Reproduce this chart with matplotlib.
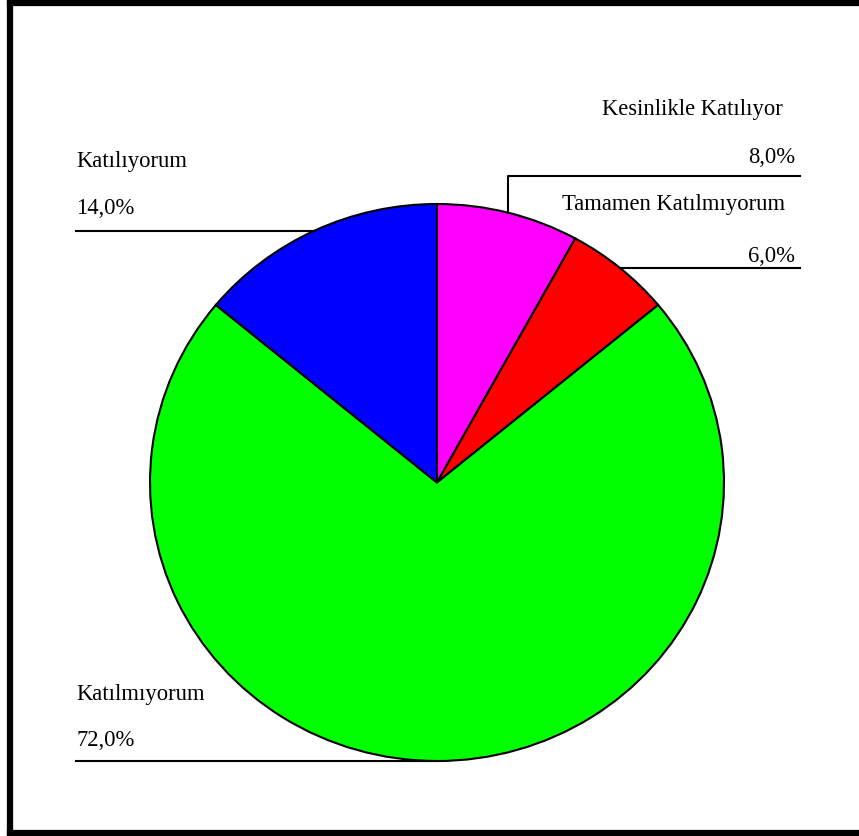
import numpy as np
import matplotlib
matplotlib.use("Agg")
import matplotlib.pyplot as plt

# veriler
labels = ["Kesinlikle Katılıyor", "Tamamen Katılmıyorum", "Katılmıyorum", "Katılıyorum"]
values = [8.0, 6.0, 72.0, 14.0]
colors = ["#FF00FF", "#FF0000", "#00FF00", "#0000FF"]

W, H = 859, 837
fig = plt.figure(figsize=(W / 100, H / 100), dpi=100)

# pasta grafiği (hafif elips)
cx, cy, rx, ry = 437, 483.5, 287, 278.5
pax = fig.add_axes([(cx - rx) / W, (H - cy - ry) / H, 2 * rx / W, 2 * ry / H])
wedges, _ = pax.pie(values, colors=colors, startangle=90, counterclock=False,
                    wedgeprops=dict(edgecolor="black", linewidth=1.5))
pax.set_aspect("auto")
pax.set_xlim(-1, 1)
pax.set_ylim(-1, 1)
pax.axis("off")

# etiketler ve çizgiler piksel koordinatında
ax = fig.add_axes([0, 0, 1, 1])
ax.set_xlim(0, W)
ax.set_ylim(H, 0)
ax.axis("off")

def edge_point(w):
    t = np.deg2rad((w.theta1 + w.theta2) / 2)
    return cx + rx * np.cos(t), cy - ry * np.sin(t)

def pct(v):
    return f"{v:.1f}%".replace(".", ",")

font = dict(family="Liberation Serif", fontsize=16.3, color="black")
lw = 1.5

# Kesinlikle Katılıyor
ex, ey = edge_point(wedges[0])
ax.plot([ex, ex, 800], [ey, 177, 177], color="black", lw=lw)
ax.text(783, 115, labels[0], ha="right", va="baseline", **font)
ax.text(795, 163, pct(values[0]), ha="right", va="baseline", **font)

# Tamamen Katılmıyorum
ex, ey = edge_point(wedges[1])
ax.plot([ex, 800], [ey, ey], color="black", lw=lw)
ax.text(785, 210, labels[1], ha="right", va="baseline", **font)
ax.text(795, 262, pct(values[1]), ha="right", va="baseline", **font)

# Katılmıyorum
ex, ey = edge_point(wedges[2])
ax.plot([76, ex], [ey, ey], color="black", lw=lw)
ax.text(76, 700, labels[2], ha="left", va="baseline", **font)
ax.text(76, 746, pct(values[2]), ha="left", va="baseline", **font)

# Katılıyorum
ex, ey = edge_point(wedges[3])
ax.plot([76, ex], [ey, ey], color="black", lw=lw)
ax.text(76, 167, labels[3], ha="left", va="baseline", **font)
ax.text(76, 214, pct(values[3]), ha="left", va="baseline", **font)

# çerçeve
ax.plot([10, 10], [4, 834], color="black", lw=4.5, solid_capstyle="projecting")
ax.plot([10, W], [4, 4], color="black", lw=4.5, solid_capstyle="projecting")
ax.plot([10, W], [834, 834], color="black", lw=4.5, solid_capstyle="projecting")

fig.savefig("out.png", dpi=100, facecolor="white")
